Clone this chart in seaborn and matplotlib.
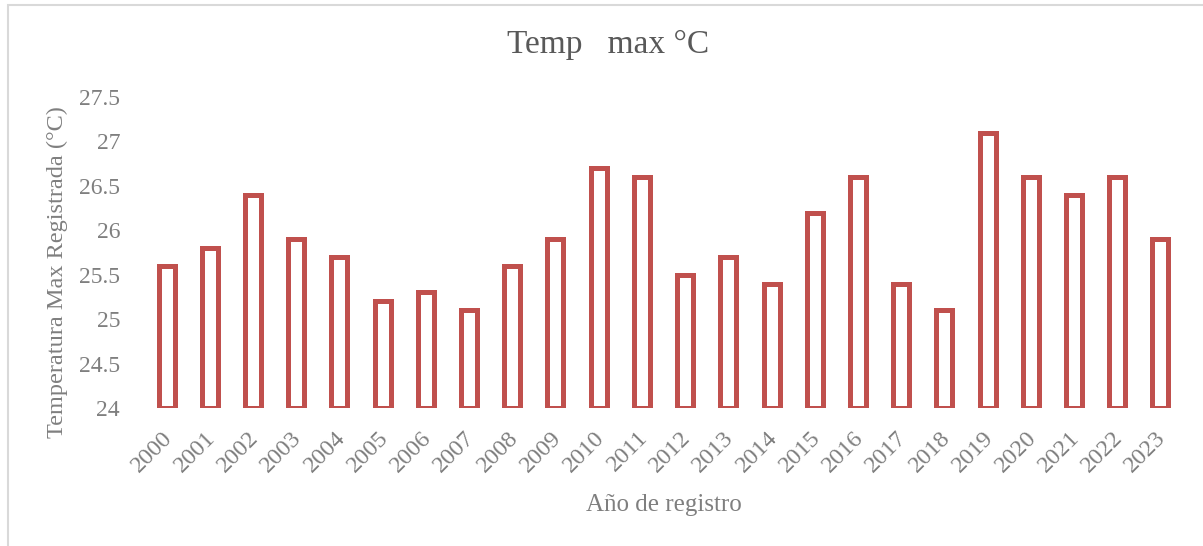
import matplotlib
matplotlib.use("Agg")
import matplotlib.pyplot as plt
import matplotlib.transforms as mtransforms
import seaborn as sns
from matplotlib.patches import Rectangle

years = [str(y) for y in range(2000, 2024)]
temps = [25.6, 25.8, 26.4, 25.9, 25.7, 25.2, 25.3, 25.1, 25.6, 25.9, 26.7, 26.6,
         25.5, 25.7, 25.4, 26.2, 26.6, 25.4, 25.1, 27.1, 26.6, 26.4, 26.6, 25.9]
yticks = [24, 24.5, 25, 25.5, 26, 26.5, 27, 27.5]
ytick_labels = ["24", "24.5", "25", "25.5", "26", "26.5", "27", "27.5"]

title = "Temp   max °C"
xlabel = "Año de registro"
ylabel = "Temperatura Max Registrada (°C)"

sns.set_theme(style="white")
plt.rcParams['font.family'] = ['Liberation Serif', 'DejaVu Serif']

bar_color = "#C0504D"
text_color = "#7F7F7F"

fig = plt.figure(figsize=(12.03, 5.46), dpi=100)
ax = fig.add_axes([145 / 1203, 1 - 408 / 546, (1182 - 145) / 1203, (408 - 97) / 546])

sns.barplot(x=years, y=temps, ax=ax, fill=False, color=bar_color,
            width=0.37, linewidth=3.6, errorbar=None)
for p in ax.patches:
    p.set_edgecolor(bar_color)
    h = p.get_height()
    p.set_y(24)
    p.set_height(h - 24)

ax.set_ylim(24, 27.5)
ax.set_xlim(-0.5, len(years) - 0.5)
ax.set_yticks(yticks)
ax.set_yticklabels(ytick_labels)
for s in ax.spines.values():
    s.set_visible(False)
ax.tick_params(axis='y', length=0, pad=18, labelsize=17, labelcolor=text_color)
ax.tick_params(axis='x', length=0, pad=14, labelsize=17.5, labelcolor=text_color)
offset = mtransforms.ScaledTranslation(-5 / 100, 0, fig.dpi_scale_trans)
for lbl in ax.get_xticklabels():
    lbl.set_rotation(45)
    lbl.set_ha('right')
    lbl.set_rotation_mode('anchor')
    lbl.set_transform(lbl.get_transform() + offset)

ax.set_xlabel(xlabel, fontsize=18, color=text_color, va='center')
ax.xaxis.set_label_coords(0.5, (408 - 505) / 311)
ax.set_ylabel(ylabel, fontsize=17.5, color=text_color, va='center')
ax.yaxis.set_label_coords((57 - 145) / 1037, (408 - 272) / 311)
fig.text(608 / 1203, 1 - 45 / 546, title, fontsize=24, color="#595959",
         ha='center', va='center')

fig.patches.append(Rectangle((8 / 1203, -0.1), 1.1, 1 - 5 / 546 + 0.1,
                             transform=fig.transFigure, fill=False,
                             edgecolor="#D9D9D9", linewidth=1.5))

fig.savefig("out.png", dpi=100)
